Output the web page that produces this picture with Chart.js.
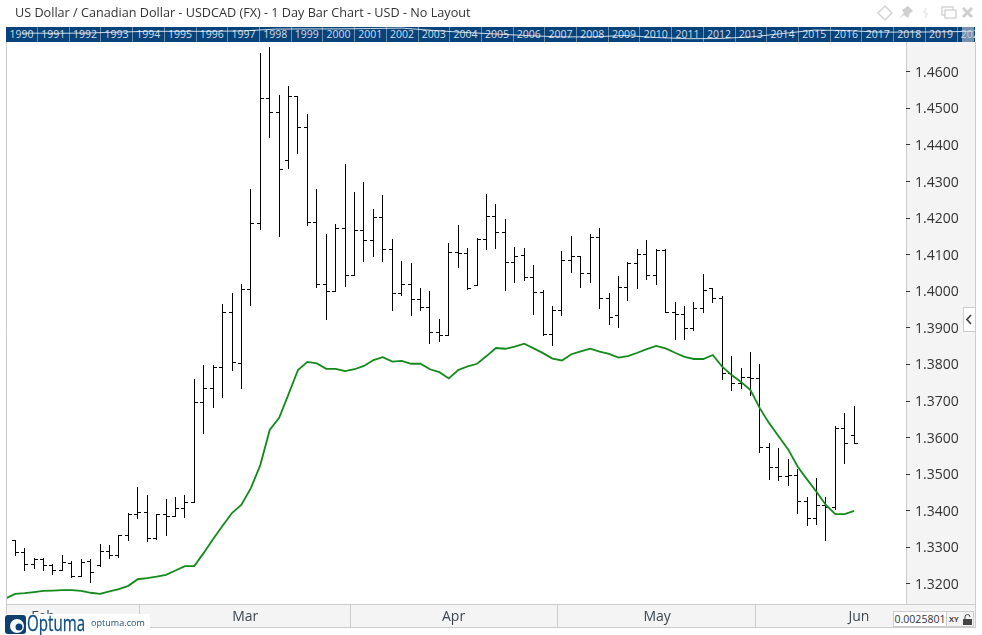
<!DOCTYPE html>
<html>
<head>
<meta charset="utf-8">
<title>USDCAD</title>
<script src="https://cdn.jsdelivr.net/npm/chart.js@4"></script>
<style>
html,body{margin:0;padding:0;background:#fff;overflow:hidden;}
body{width:982px;height:635px;position:relative;font-family:"Open Sans",sans-serif;}
#myChart{position:absolute;left:0;top:0;}
#title{position:absolute;left:15px;top:3px;font-size:12.65px;line-height:18px;color:#333;white-space:nowrap;}
#strip{position:absolute;left:6px;top:27px;width:969px;height:15px;background:#06437a;overflow:hidden;}
#strip div{position:absolute;top:0;height:15px;line-height:15px;font-size:10.5px;color:#d5dee8;text-align:center;border-right:1px solid #6f8fb0;box-sizing:border-box;}
#stripChart{position:absolute;left:6px;top:27px;}
#stripEnd{position:absolute;left:962px;top:27px;width:12px;height:15px;background:rgba(190,200,212,.6);}
#icons{position:absolute;left:875px;top:2px;}
#tab{position:absolute;left:963px;top:307px;width:11px;height:23px;background:#fff;border:1px solid #ccc;border-right:none;}
#logo{position:absolute;left:5px;top:614px;width:145px;height:21px;background:#fff;}
#logo b{position:absolute;left:22px;top:-3px;font-size:21px;line-height:24px;font-weight:400;color:#0f4c81;transform:scaleX(.72);transform-origin:left top;-webkit-text-stroke:.3px #0f4c81;}
#logo span{position:absolute;left:86px;top:2px;font-size:9px;line-height:14px;letter-spacing:.05px;color:#1d4f7d;}
#scaleBox{position:absolute;left:893px;top:611px;width:52px;height:14px;background:#fff;border:1px solid #ccc;font-size:10.6px;line-height:15px;color:#333;text-align:center;}
#lockBox{position:absolute;left:946px;top:611px;width:26px;height:14px;background:#f4f4f4;border:1px solid #ccc;font-size:7.5px;line-height:15px;font-weight:700;color:#444;}
</style>
</head>
<body>
<canvas id="myChart" width="982" height="635"></canvas>
<div id="title">US Dollar / Canadian Dollar - USDCAD (FX) - 1 Day Bar Chart - USD - No Layout</div>
<div id="strip"></div>
<canvas id="stripChart" width="969" height="15"></canvas>
<div id="stripEnd"></div>
<svg id="icons" width="104" height="22" viewBox="0 0 104 22">
  <path d="M10 4 L17 11 L10 18 L3 11 Z" fill="none" stroke="#d4d4d4" stroke-width="1.5"/>
  <path d="M24 17 L29 11 L27 8 L33 4 L38 9 L35 11 L33 16 L29 13 Z" fill="#cfcfcf"/>
  <path d="M51 6 L49 10 L52 12 L50 16" fill="none" stroke="#eeeeee" stroke-width="2"/>
  <rect x="67" y="5" width="11" height="8" fill="none" stroke="#cfcfcf" stroke-width="1.3"/>
  <rect x="70" y="8" width="11" height="8" fill="#fff" stroke="#cfcfcf" stroke-width="1.3"/>
  <path d="M88 6 L97 15 M97 6 L88 15" stroke="#cfcfcf" stroke-width="3"/>
</svg>
<div id="tab"><svg width="11" height="23"><path d="M7 7 L3 11.5 L7 16" fill="none" stroke="#444" stroke-width="1.7"/></svg></div>
<div id="logo">
  <svg width="21" height="20" style="position:absolute;left:0;top:1px"><rect width="21" height="19" rx="3" fill="#0d3f70"/><circle cx="12" cy="11" r="7" fill="#fff"/><circle cx="14" cy="12" r="3.5" fill="#0d3f70"/></svg>
  <b>Optuma</b><span>optuma.com</span>
</div>
<div id="scaleBox">0.0025801</div>
<div id="lockBox">&nbsp;XY<svg width="9" height="11" style="position:absolute;left:16px;top:2px"><path d="M2 5 V3 a2.5 2.5 0 0 1 5 0" fill="none" stroke="#444"/><rect x="0" y="5" width="9" height="6" fill="#444"/></svg></div>

<script>
// bar index starts at -1, the first bar is mostly cut off by the left edge
const opens = [1.3340,1.3319,1.3287,1.3254,1.3268,1.3251,1.3237,1.3257,1.3220,1.3261,1.3251,1.3289,1.3277,1.3333,1.3391,1.3396,1.3324,1.3391,1.3385,1.3407,1.3423,1.3697,1.3735,1.3792,1.3943,1.3803,1.4006,1.4186,1.4528,1.4490,1.4358,1.4533,1.4449,1.4189,1.4019,1.4000,1.4173,1.4044,1.4167,1.4140,1.4203,1.4115,1.3995,1.4019,1.3978,1.3957,1.3888,1.3880,1.4107,1.4104,1.4016,1.4142,1.4205,1.4162,1.4080,1.4099,1.4039,1.3998,1.3882,1.3948,1.4085,1.4096,1.4049,1.4148,1.3981,1.3935,1.4011,1.4077,1.4101,1.4044,1.4112,1.3943,1.3937,1.3899,1.3954,1.4007,1.3981,1.3776,1.3749,1.3765,1.3762,1.3574,1.3519,1.3494,1.3497,1.3426,1.3380,1.3415,1.3410,1.3626,1.3607];
const highs = [1.3340,1.3319,1.3296,1.3269,1.3269,1.3252,1.3279,1.3261,1.3268,1.3268,1.3309,1.3306,1.3333,1.3393,1.3465,1.3441,1.3391,1.3432,1.3437,1.3441,1.3760,1.3796,1.3796,1.3963,1.3995,1.4019,1.4277,1.4651,1.4667,1.4536,1.4561,1.4533,1.4484,1.4277,1.4154,1.4183,1.4347,1.4271,1.4298,1.4224,1.4261,1.4142,1.4082,1.4077,1.4008,1.4000,1.3924,1.4131,1.4181,1.4118,1.4145,1.4265,1.4238,1.4197,1.4121,1.4118,1.4071,1.4003,1.3959,1.4110,1.4151,1.4096,1.4156,1.4173,1.3995,1.4041,1.4080,1.4115,1.4140,1.4115,1.4115,1.3970,1.3959,1.3970,1.4047,1.4008,1.3987,1.3823,1.3790,1.3833,1.3801,1.3585,1.3571,1.3541,1.3514,1.3437,1.3489,1.3437,1.3631,1.3667,1.3686];
const lows = [1.3300,1.3277,1.3237,1.3242,1.3237,1.3225,1.3237,1.3217,1.3220,1.3204,1.3247,1.3269,1.3273,1.3319,1.3379,1.3317,1.3322,1.3332,1.3385,1.3382,1.3423,1.3612,1.3682,1.3709,1.3783,1.3734,1.3961,1.4170,1.4420,1.4150,1.4335,1.4376,1.4180,1.4010,1.3923,1.4000,1.4013,1.4044,1.4081,1.4095,1.4081,1.3947,1.3989,1.3934,1.3947,1.3857,1.3862,1.3880,1.4064,1.4004,1.4016,1.4114,1.4117,1.4002,1.4024,1.4029,1.3936,1.3880,1.3852,1.3934,1.4051,1.4010,1.4024,1.3953,1.3909,1.3901,1.3976,1.4007,1.4032,1.4018,1.3943,1.3868,1.3868,1.3894,1.3943,1.3970,1.3760,1.3730,1.3735,1.3716,1.3560,1.3485,1.3482,1.3469,1.3392,1.3359,1.3362,1.3318,1.3403,1.3530,1.3585];
const closes = [1.3319,1.3287,1.3254,1.3268,1.3251,1.3236,1.3259,1.3220,1.3260,1.3232,1.3289,1.3277,1.3333,1.3391,1.3396,1.3324,1.3391,1.3385,1.3407,1.3423,1.3697,1.3735,1.3792,1.3943,1.3806,1.4006,1.4186,1.4528,1.4490,1.4334,1.4533,1.4449,1.4189,1.4019,1.4000,1.4173,1.4044,1.4167,1.4140,1.4203,1.4115,1.3995,1.4019,1.3978,1.3957,1.3888,1.3880,1.4107,1.4104,1.4008,1.4142,1.4205,1.4162,1.4080,1.4096,1.4039,1.3998,1.3882,1.3948,1.4085,1.4096,1.4049,1.4148,1.3981,1.3929,1.4011,1.4077,1.4101,1.4044,1.4112,1.3943,1.3937,1.3899,1.3954,1.4003,1.3981,1.3776,1.3749,1.3765,1.3762,1.3574,1.3519,1.3494,1.3497,1.3426,1.3380,1.3415,1.3410,1.3626,1.3585,1.3585];
const average = [1.3162,1.3173,1.3175,1.3178,1.3181,1.3182,1.3183,1.3183,1.3181,1.3176,1.3173,1.3180,1.3186,1.3195,1.3213,1.3216,1.3220,1.3225,1.3237,1.3249,1.3249,1.3285,1.3323,1.3359,1.3394,1.3417,1.3462,1.3525,1.3621,1.3654,1.3719,1.3785,1.3807,1.3803,1.3788,1.3788,1.3782,1.3787,1.3796,1.3812,1.3820,1.3808,1.3810,1.3802,1.3802,1.3787,1.3779,1.3762,1.3785,1.3795,1.3802,1.3823,1.3845,1.3843,1.3849,1.3857,1.3844,1.3831,1.3816,1.3811,1.3828,1.3836,1.3843,1.3835,1.3829,1.3819,1.3823,1.3832,1.3842,1.3851,1.3844,1.3832,1.3821,1.3815,1.3815,1.3826,1.3794,1.3771,1.3752,1.3730,1.3680,1.3639,1.3603,1.3568,1.3521,1.3486,1.3452,1.3416,1.3391,1.3391,1.3400];

const priceTicks = [1.32,1.33,1.34,1.35,1.36,1.37,1.38,1.39,1.40,1.41,1.42,1.43,1.44,1.45,1.46];
const monthNames = ['Feb','Mar','Apr','May','Jun'];
const monthCenters = [2.95,24.4,46.5,68.1,89.5];
const monthStarts = [13.16,35.55,57.5,78.5];

const years = [1990,1991,1992,1993,1994,1995,1996,1997,1998,1999,2000,2001,2002,2003,2004,2005,2006,2007,2008,2009,2010,2011,2012,2013,2014,2015,2016,2017,2018,2019,2020];
const yearlyRate = [1.27,1.26,1.27,1.32,1.36,1.36,1.36,1.38,1.47,1.48,1.48,1.50,1.52,1.40,1.30,1.22,1.14,1.08,1.08,1.15,1.05,0.99,1.00,1.08,1.25,1.42,1.40,1.32,1.32,1.33,1.36];

const tickLen = 3; // px

// year labels behind the little overview line
const strip = document.getElementById('strip');
years.forEach((y, i) => {
    let d = document.createElement('div');
    let left = i == 0 ? 0 : 31.7 + 31.71 * (i - 1);
    d.style.left = left + 'px';
    d.style.width = '32px';
    d.textContent = y;
    strip.appendChild(d);
});

let stems = [];
let openTicks = [];
let closeTicks = [];
let avgPoints = [];
opens.forEach((o, k) => {
    // -0.9 so the cut off bar still shows its close tick past the left border
    let x = k == 0 ? -0.9 : k - 1;
    stems.push({x: x, y: highs[k]}, {x: x, y: lows[k]}, {x: x, y: null});
    openTicks.push({x: x, y: o}, {x: x, y: o}, {x: x, y: null});
    closeTicks.push({x: x, y: closes[k]}, {x: x, y: closes[k]}, {x: x, y: null});
    avgPoints.push({x: x, y: average[k]});
});

function lineSet(label, data, color, width) {
    return {
        label: label,
        data: data,
        borderColor: color,
        backgroundColor: color,
        borderWidth: width,
        pointRadius: 0,
        tension: 0,
        fill: false,
        spanGaps: false
    };
}

// bars sit on whole pixels, the way the reference draws them
const snapBars = {
    id: 'snapBars',
    afterDatasetsUpdate(chart) {
        [1, 2, 3].forEach(n => {
            let pts = chart.getDatasetMeta(n).data;
            for (let j = 0; j < pts.length; j += 3) {
                let px = Math.floor(pts[j].x);
                let a = pts[j], b = pts[j + 1];
                if (n == 1) {
                    a.x = b.x = px + 0.5;
                    a.y = Math.floor(a.y);
                    b.y = Math.floor(b.y) + 1;
                } else {
                    a.y = b.y = Math.floor(a.y) + 0.5;
                    if (n == 2) { a.x = px - tickLen; b.x = px; }
                    else { a.x = px + 1; b.x = px + 1 + tickLen; }
                }
            }
        });
    }
};

const panels = {
    id: 'panels',
    beforeDraw(chart) {
        let c = chart.ctx;
        let area = chart.chartArea;
        c.save();
        c.fillStyle = '#f4f4f4';
        c.fillRect(area.right, area.top, 975 - area.right, area.bottom - area.top);
        c.fillRect(area.left, area.bottom, 975 - area.left, 627 - area.bottom);
        c.strokeStyle = '#cccccc';
        c.lineWidth = 1;
        c.beginPath();
        c.moveTo(6.5, area.top); c.lineTo(6.5, 627.5);
        c.lineTo(975.5, 627.5); c.lineTo(975.5, area.top);
        c.moveTo(area.right + 0.5, area.top); c.lineTo(area.right + 0.5, area.bottom);
        c.moveTo(6.5, area.bottom + 0.5); c.lineTo(975.5, area.bottom + 0.5);
        monthStarts.forEach(m => {
            let px = Math.floor(chart.scales.x.getPixelForValue(m)) + 0.5;
            c.moveTo(px, area.bottom); c.lineTo(px, 627.5);
        });
        c.stroke();
        c.restore();
    }
};

new Chart(document.getElementById('myChart'), {
    type: 'line',
    data: {
        datasets: [
            lineSet('Average', avgPoints, '#138a1c', 1.8),
            lineSet('Range', stems, '#000000', 1),
            lineSet('Open', openTicks, '#000000', 1),
            lineSet('Close', closeTicks, '#000000', 1)
        ]
    },
    plugins: [panels, snapBars],
    options: {
        responsive: false,
        animation: false,
        events: [],
        layout: {padding: {left: 7, top: 42, right: 0, bottom: 0}},
        plugins: {legend: {display: false}, tooltip: {enabled: false}},
        scales: {
            x: {
                type: 'linear',
                min: -0.87,
                max: 94.5,
                afterFit: axis => { axis.height = 31; },
                afterBuildTicks: axis => { axis.ticks = monthCenters.map(v => ({value: v})); },
                grid: {display: false},
                border: {display: false},
                ticks: {
                    autoSkip: false,
                    maxRotation: 0,
                    padding: -3,
                    color: '#3c4650',
                    font: {family: '"Open Sans"', size: 14},
                    callback: (value, index) => monthNames[index]
                }
            },
            y: {
                type: 'linear',
                position: 'right',
                min: 1.31453,
                max: 1.46815,
                afterFit: axis => { axis.width = 76; },
                afterBuildTicks: axis => { axis.ticks = priceTicks.map(v => ({value: v})); },
                grid: {drawOnChartArea: false, tickLength: 4, tickColor: '#333333'},
                border: {display: false},
                ticks: {
                    padding: 5,
                    labelOffset: 1,
                    color: '#333333',
                    font: {family: '"Open Sans"', size: 14},
                    callback: value => value.toFixed(4)
                }
            }
        }
    }
});

// overview line across the year strip
new Chart(document.getElementById('stripChart'), {
    type: 'line',
    data: {
        datasets: [lineSet('Overview', years.map((y, i) => ({x: y + 0.5, y: yearlyRate[i]})), 'rgba(255,255,255,0.8)', 1)]
    },
    options: {
        responsive: false,
        animation: false,
        events: [],
        layout: {padding: 0},
        plugins: {legend: {display: false}, tooltip: {enabled: false}},
        scales: {
            x: {type: 'linear', display: false, min: 1990, max: 2020.56},
            y: {type: 'linear', display: false, min: 0.825, max: 1.575}
        }
    }
});
</script>
</body>
</html>
